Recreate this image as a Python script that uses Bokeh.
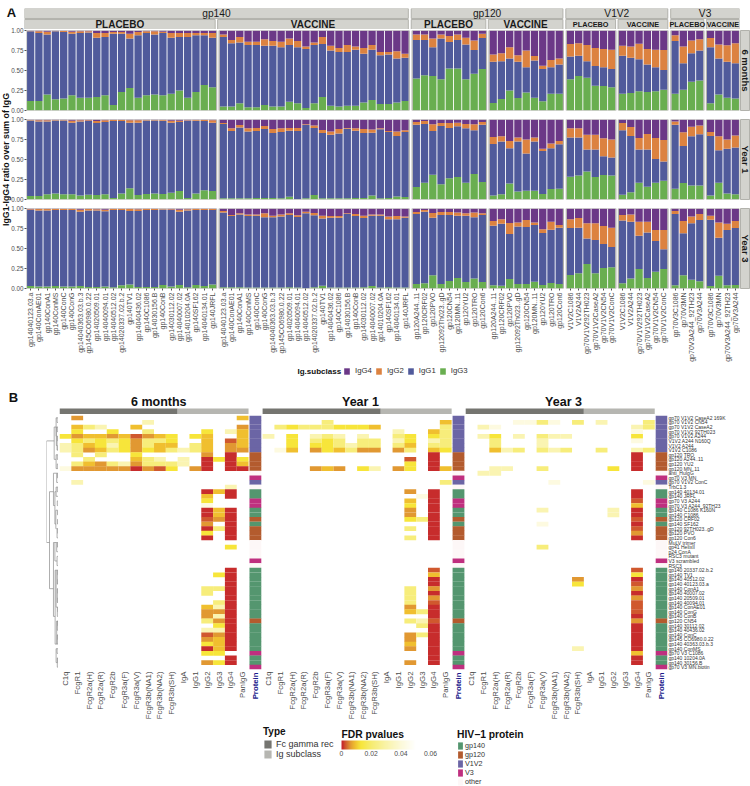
import math
import numpy as np
from bokeh.plotting import figure
from bokeh.layouts import column, row
from bokeh.embed import file_html
from bokeh.resources import INLINE
from bokeh.core.properties import value
from bokeh.models import (ColumnDataSource, FactorRange, Range1d, FixedTicker, Legend, LegendItem,
                          LinearColorMapper, ColorBar)

FONT = "Liberation Sans"
GREY = "#4d4d4d"

# ---------------------------------------------------------------- panel A data
GP140_NAMES = ["gp14040123.03.a", "gp140ConAE01", "gp140ConA1", "gp140ConMS", "gp140ConC", "gp140ConG",
               "gp14040363.03.b.3", "gp145CO6980.0.22", "gp14020509.01", "gp14040094.01", "gp14040512.02",
               "gp14020337.02.b.2", "gp140TV1", "gp14040436.02", "gp140C1086", "gp14030156.B", "gp140ConB",
               "gp14030112.02", "gp14040007.02", "gp14010204.0A", "gp140SF162", "gp14040134.01", "gp140JRFL"]
GP120_NAMES = ["gp120A244..11", "gp120CRF02", "gp120PVO", "gp12092Th023..gD", "gp120CN54", "gp120MN..11",
               "gp120YU2", "gp120TRO", "gp120Con6"]
V1V2_NAMES = ["V1V2C1086", "V1V2A244", "gp70V1V292TH023", "gp70V1V2CaseA2", "gp70V1V2CN54", "gp70V1V2ConC"]
V3_NAMES = ["gp70V3C1086", "gp70V3MN", "gp70V3A244_92TH23", "gp70V3A244"]
ANTIGEN_GROUPS = ["gp140", "gp120", "V1V2", "V3"]
ANTIGEN_NAMES = [GP140_NAMES, GP120_NAMES, V1V2_NAMES, V3_NAMES]
TREATMENTS = ["PLACEBO", "VACCINE"]
TIMEPOINTS = ["6 months", "Year 1", "Year 3"]
SUBCLASSES = ["IgG4", "IgG2", "IgG1", "IgG3"]
SUB_COLORS = {"IgG4": "#6b3887", "IgG2": "#dc8240", "IgG1": "#505a9b", "IgG3": "#69ae50"}

# order: gp140 P (23), gp140 V (23), gp120 P (9), gp120 V (9), V1V2 P (6), V1V2 V (6), V3 P (4), V3 V (4)
M6_IGG4 = [.005,.01,.015,.005,.005,.015,.01,.01,.03,.03,.02,.02,.04,.02,.01,.01,.015,.03,.03,.03,.03,.03,.03,
           .05,.12,.08,.14,.14,.11,.13,.14,.10,.13,.20,.15,.08,.19,.22,.18,.20,.22,.18,.27,.27,.26,.29,
           .05,.05,.10,.05,.07,.05,.09,.125,.04,
           .30,.285,.21,.31,.25,.32,.44,.37,.35,
           .17,.16,.18,.22,.23,.24,
           .19,.20,.165,.23,.24,.245,
           .06,.20,.125,.11,
           .095,.175,.185,.16]
M6_IGG2 = [.005,.02,.035,.005,.015,.025,.02,.015,.06,.05,.02,.02,.06,.04,.02,.04,.015,.06,.05,.05,.03,.03,.06,
           .03,.04,.07,.04,.04,.08,.06,.07,.08,.08,.03,.03,.09,.06,.05,.09,.04,.07,.06,.04,.03,.09,.05,
           .07,.07,.11,.05,.075,.07,.085,.12,.055,
           .09,.10,.14,.08,.21,.055,.04,.09,.075,
           .155,.155,.205,.225,.23,.24,
           .125,.14,.195,.195,.22,.25,
           .07,.21,.16,.14,
           .115,.175,.205,.25]
M6_IGG3 = [.12,.12,.20,.14,.15,.19,.16,.16,.17,.19,.07,.23,.28,.16,.19,.20,.19,.21,.25,.16,.23,.32,.29,
           .05,.05,.09,.04,.04,.07,.05,.05,.11,.09,.03,.09,.17,.06,.05,.06,.06,.10,.13,.08,.08,.10,.12,
           .40,.44,.43,.39,.525,.525,.39,.46,.52,
           .095,.145,.25,.155,.225,.16,.115,.21,.21,
           .39,.43,.41,.31,.305,.29,
           .21,.22,.24,.23,.24,.26,
           .21,.26,.36,.375,
           .09,.20,.16,.15]
Y1_IGG4 = [.005,.01,.01,.005,.005,.015,.01,.01,.02,.01,.005,.005,.01,.01,.005,.005,.005,.015,.015,.01,.005,.005,.01,
           .045,.11,.07,.11,.105,.08,.12,.11,.105,.105,.06,.075,.13,.15,.12,.105,.11,.12,.125,.11,.145,.15,.135,
           .03,.02,.06,.045,.045,.04,.055,.06,.03,
           .22,.21,.27,.225,.25,.225,.365,.30,.27,
           .11,.11,.19,.19,.235,.25,
           .045,.095,.23,.18,.23,.255,
           .025,.16,.09,.075,
           .155,.21,.25,.20]
Y1_IGG2 = [.007,.015,.015,.007,.007,.025,.015,.01,.025,.02,.015,.015,.03,.03,.007,.007,.011,.025,.015,.006,.011,.015,.03,
           .012,.035,.03,.04,.04,.04,.05,.045,.035,.04,.01,.03,.04,.04,.055,.01,.03,.05,.04,.012,.01,.055,.02,
           .035,.035,.085,.035,.06,.045,.055,.075,.035,
           .085,.065,.09,.05,.175,.05,.03,.06,.04,
           .115,.115,.185,.185,.225,.225,
           .09,.11,.145,.195,.265,.27,
           .04,.17,.12,.11,
           .05,.175,.115,.15]
Y1_IGG3 = [.045,.045,.065,.075,.065,.065,.05,.06,.055,.065,.02,.075,.14,.055,.07,.075,.07,.085,.105,.02,.075,.115,.105,
           .017,.017,.017,.017,.02,.02,.02,.017,.033,.004,.017,.055,.017,.017,.017,.017,.02,.02,.05,.017,.02,.037,.03,
           .155,.21,.31,.19,.265,.28,.21,.32,.22,
           .05,.065,.20,.10,.11,.11,.07,.13,.135,
           .285,.30,.35,.28,.305,.30,
           .06,.09,.21,.16,.21,.235,
           .135,.205,.175,.175,
           .05,.21,.075,.065]
Y3_IGG4 = [.01,.005,.005,.005,.005,.005,.015,.005,.01,.015,.005,.005,.005,.01,.005,.005,.004,.01,.015,.01,.005,.005,.005,
           .03,.08,.06,.075,.075,.06,.09,.075,.06,.085,.04,.055,.09,.095,.095,.06,.07,.09,.075,.075,.10,.095,.10,
           .045,.02,.055,.045,.045,.05,.06,.05,.06,
           .155,.135,.18,.175,.145,.175,.26,.165,.205,
           .135,.12,.185,.185,.22,.24,
           .08,.075,.165,.165,.27,.27,
           .03,.155,.10,.07,
           .09,.175,.19,.155]
Y3_IGG2 = [.01,.02,.02,.015,.015,.015,.025,.02,.015,.02,.015,.015,.025,.02,.015,.015,.008,.01,.025,.015,.015,.015,.015,
           .02,.015,.015,.02,.015,.05,.02,.025,.02,.02,.02,.03,.035,.02,.02,.01,.025,.03,.015,.015,.035,.04,.015,
           .025,.02,.06,.035,.035,.04,.03,.06,.02,
           .06,.055,.14,.05,.085,.03,.045,.10,.035,
           .11,.12,.19,.21,.225,.24,
           .07,.09,.175,.135,.135,.24,
           .04,.155,.085,.075,
           .05,.19,.08,.09]
Y3_IGG3 = [.03,.025,.025,.03,.025,.025,.03,.02,.02,.025,.017,.04,.05,.02,.02,.02,.045,.025,.045,.017,.045,.03,.05,
           .017,.017,.017,.012,.012,.012,.012,.012,.017,.012,.004,.017,.033,.012,.012,.012,.012,.017,.03,.012,.017,.012,.012,
           .055,.065,.165,.055,.095,.13,.08,.125,.08,
           .04,.035,.12,.055,.055,.085,.045,.07,.055,
           .17,.19,.305,.19,.255,.265,
           .065,.125,.245,.13,.21,.245,
           .04,.165,.11,.09,
           .03,.16,.04,.045]

# ---------------------------------------------------------------- panel B data
ROW_LABELS = ["gp70 V1V2 CaseA2 169K", "gp70 V1V2 CN54", "gp70 V1V2 CaseA2", "gp70 V1V2 92TH023", "gp70 V1V2 A244",
              "V1V2 A244 N160Q", "V1V2 A244", "V1V2 C1086", "gp120 TRO", "gp120 A244..11", "gp120 YU2", "gp120 MN..11",
              "anti_HuIgG", "gp70 V3 MN", "gp70 V1V2 ConC", "TrbC1.3", "gp140 40134.01", "gp140 JRFL", "gp70 V3 A244",
              "gp70 V3 A244_92TH23", "gp140 C1086 K160N", "gp140 C1086", "gp120 CRF02", "gp140 SF162",
              "gp120 92TH023..gD", "gp120 PVO", "gp120 Con6", "MuLV trimer", "gp41 HelixII", "p24 ConA", "RSC3 mutant",
              "V3 scrambled", "RSC3", "gp140 20337.02.b.2", "gp140 TV1", "gp140 40512.02", "gp140 40123.03.a",
              "gp140 ConA1", "gp140 40007.02", "gp140 20509.01", "gp140 40094.01", "gp140 ConAE01", "gp140 ConG",
              "gp140 ConB", "gp120 CN54", "gp140 30112.02", "gp140 40436.02", "gp140 ConC", "gp145 CO6980.0.22",
              "gp140 40363.03.b.3", "gp140 ConMS", "gp70 V3 C1086", "gp140 10204.0A", "gp140 30156.B", "gp70 V3 MN.biotin"]
ROW_PROTEIN = ["V1V2"] * 8 + ["gp120"] * 4 + ["other", "V3", "V1V2", "other", "gp140", "gp140", "V3", "V3", "gp140",
               "gp140", "gp120", "gp140", "gp120", "gp120", "gp120", "other", "other", "other", "other", "V3", "other"] \
              + ["gp140"] * 11 + ["gp120"] + ["gp140"] * 6 + ["V3", "gp140", "gp140", "V3"]
FC_COLS = ["C1q", "FcgR1", "FcgR2a(H)", "FcgR2a(R)", "FcgR2b", "FcgR3a(F)", "FcgR3a(V)", "FcgR3b(NA1)", "FcgR3b(NA2)",
           "FcgR3b(SH)"]
IG_COLS = ["IgA", "IgG1", "IgG2", "IgG3", "IgG4", "PanIgG"]
PROTEIN_NAMES = ["gp140", "gp120", "V1V2", "V3", "other"]
PROTEIN_COLORS = {"gp140": "#54966f", "gp120": "#b35b2e", "V1V2": "#6b65a5", "V3": "#bf2f7f", "other": "#fdf7f7"}
# FDR p-value bands for the letters in the heat rows below ("." = not significant)
FDR_LEVEL = {"a": .0008, "b": .0028, "c": .006, "d": .009, "e": .013, "f": .022, "g": .032, "h": .042}

_ = "................"
HEAT_6M = [".c.............d", ".......g........", ".dfg..d........c", ".e..e..f....e.gd", "ecddcdbcde.ed..d",
           ".efefecffe..d.bd", "gfdegecfdd.fd.cd", "gfcdfecedfgfd.cc", ".f.f..e.....c.a.", "..f...dfg.g.aeae",
           ".fdcfgcfffg.a.ad", "hcccccacbe.ca.aa", _, _, ".g..............", "..............g.", "............ada.",
           "............d.a.", "............e...", "............h...", "............ada.", "............ada.",
           "............bca.", "............c.a.", "............afa.", "............e.a.", "............a.a.",
           _, "..............e.", _, _, _, _, "..............a.", ".............ea.", "..............a.",
           "..............a.", "............ffa.", "............f.a.", "..............a.", ".............fa.",
           "............dga.", "............cca.", "............cga.", "............fca.", ".............ea.",
           "............gga.", "............bca.", "............cda.", "............eda.", "............ada.",
           "............ee..", "..............a.", "............cea.", _]
HEAT_Y1 = [_, ".....f.........d", ".fefffeeed.....f", "...........g..df", "g.e.gfg.g..fe.ef", "..e.fef.ff.ge.gf",
           "..e.eefgff.fd.ff", ".hd.cedfcc.cf.de", "..............a.", "............b.a.", "............e.a.",
           "....cdc.eg.ce.ad", _, _, "...............f", _, "............c.a.", ".............ha.", "............d.a.",
           "............e.a.", "............c.a.", "............c.a.", "............efa.", "..............a.",
           "............f.a.", "..............a.", "............f.a.", _, _, _, _, _, _, "..............b.",
           "..............d.", "..............a.", "..............a.", "............f.c.", "............f.a.",
           "............f.c.", "............f.b.", "............c.a.", "............dfa.", "..............a.",
           "............fgb.", ".............fa.", "..............a.", "............cfa.", "............c.a.",
           "............d.a.", "............c.a.", "..............a.", "..............a.", "............c.a.", _]
HEAT_Y3 = [_, "....hhfh.f.g...f", ".gh...........gf", "..............h.", ".ge.g.fgg.....e.", "..f...g.......h.",
           "..f...g.........", "..dgf.fgf..f..gf", "..............a.", "..............a.", "..............a.",
           "..gg..f.....e.a.", ".gg.............", _, ".......h.......h", _, "..............a.", "..............a.",
           "..............b.", "..............d.", "......g.....g.a.", "............g.a.", "..............b.",
           "......h.......a.", "..............b.", "..............c.", "..............a.", _, "......f.........",
           _, _, _, _, "..............b.", "..............e.", ".........c....a.", ".........e....b.", "..............c.",
           "..............a.", "..............c.", "..............b.", "..............b.", "..............b.",
           "..............a.", "..............c.", "..............a.", "..............a.", "..............a.",
           "..............a.", "..............a.", ".........g....a.", "..............d.", "..............a.",
           "..............a.", _]

# dendrogram merges: row index a, row index b, merge height, heights of the two children
DENDRO_A = [6, 17, 3, 1, 1, 3, 3, 5, 5, 7, 9, 9, 11, 13, 13, 13, 17, 16, 16, 19, 21, 21, 23, 25, 25, 28, 28, 28, 28, 31,
            34, 34, 34, 34, 36, 38, 38, 40, 42, 42, 45, 45, 45, 48, 48, 51, 51, 53, 53]
DENDRO_B = [28, 38, 10, 5, 2, 7, 4, 8, 6, 8, 12, 10, 12, 20, 15, 14, 24, 18, 17, 20, 25, 22, 24, 27, 26, 44, 32, 30, 29,
            33, 50, 42, 37, 35, 37, 41, 39, 41, 44, 43, 50, 47, 46, 50, 49, 54, 52, 55, 54]
DENDRO_H = [1, .75, .36, .2, .12, .18, .1, .12, .06, .06, .2, .1, .1, .42, .15, .08, .3, .2, .1, .1, .22, .08, .08, .12,
            .06, .42, .3, .15, .08, .12, .28, .2, .1, .05, .05, .1, .05, .05, .1, .05, .15, .1, .05, .1, .05, .2, .12, .1, .05]
DENDRO_HA = [.36, .42, .2, .12, 0, .1, 0, .06, 0, 0, .1, 0, 0, .15, .08, 0, .2, .1, 0, 0, .12, 0, 0, .06, 0, .3, .15, .08,
             0, 0, .2, .1, .05, 0, 0, .05, 0, 0, .05, 0, .1, .05, 0, .05, 0, .12, 0, .05, 0]
DENDRO_HB = [.75, .42, .2, .18, 0, .12, 0, .06, 0, 0, .1, 0, 0, .3, 0, 0, .22, 0, 0, 0, .15, 0, 0, 0, 0, .28, .12, 0, 0,
             0, .15, .1, .05, 0, 0, .05, 0, 0, 0, 0, .1, 0, 0, .05, 0, .1, 0, 0, 0]


def blank(w, h, x_range, y_range, left=0, right=0, top=0, bottom=0, margin=(0, 0, 0, 0)):
    p = figure(width=w, height=h, x_range=x_range, y_range=y_range, output_backend="svg", toolbar_location=None,
               x_axis_location=None, y_axis_location=None, min_border_left=left, min_border_right=right,
               min_border_top=top, min_border_bottom=bottom, outline_line_color=None,
               background_fill_color=None, border_fill_color=None, margin=margin)
    p.grid.visible = False
    return p


def put_text(p, x, y, txt, size, color="black", bold=False, angle=0, align="center"):
    p.text(x=[x], y=[y], text=[txt], angle=angle, text_align=align, text_baseline="middle",
           text_font=value(FONT), text_font_style="bold" if bold else "normal", text_font_size=size, text_color=color)


def hide_levels(ax):
    ax.group_text_color = None
    ax.subgroup_text_color = None
    ax.group_text_font_size = "1px"
    ax.subgroup_text_font_size = "1px"
    ax.separator_line_color = None


# ---------------------------------------------------------------- panel A
factors = []
facets = []
for g, names in zip(ANTIGEN_GROUPS, ANTIGEN_NAMES):
    for t in TREATMENTS:
        for n in names:
            factors.append((g, t, n))
        facets.append((g, t, names))
xA = FactorRange(factors=factors, subgroup_padding=0.3, group_padding=0.35, factor_padding=0, range_padding=0)

facet_src = ColumnDataSource(dict(left=[(g, t, ns[0], -0.5) for g, t, ns in facets],
                                  right=[(g, t, ns[-1], 0.5) for g, t, ns in facets]))

STRIP = "#d3d3ce"
STRIP_LINE = "#b2b2ac"


def bars_row(ig4, ig2, ig3, height, top, bottom, is_last=False):
    p = figure(width=732, height=height, x_range=xA, y_range=Range1d(0, 1), output_backend="svg",
               toolbar_location=None, x_axis_location="below" if is_last else None,
               min_border_left=16, min_border_right=1, min_border_top=top, min_border_bottom=bottom,
               outline_line_color=None, background_fill_color=None, border_fill_color=None)
    p.grid.visible = False
    a4, a2, a3 = np.array(ig4), np.array(ig2), np.array(ig3)
    src = ColumnDataSource(dict(x=factors, IgG4=a4, IgG2=a2, IgG3=a3, IgG1=1 - a4 - a2 - a3))
    stack = ["IgG3", "IgG1", "IgG2", "IgG4"]
    p.vbar_stack(stack, x="x", width=0.89, color=[SUB_COLORS[s] for s in stack], line_color=None, source=src)
    p.quad(left="left", right="right", bottom=0, top=1, source=facet_src, fill_color=None, line_color=STRIP_LINE,
           line_width=1.2)
    yax = p.yaxis[0]
    yax.ticker = FixedTicker(ticks=[0, .25, .5, .75, 1])
    yax.major_label_overrides = {0: "0.00", 0.25: "0.25", 0.5: "0.50", 0.75: "0.75", 1: "1.00"}
    yax.major_label_text_font = FONT
    yax.major_label_text_font_size = "6.3px"
    yax.major_label_text_color = GREY
    yax.major_label_standoff = 1
    yax.major_tick_in = 0
    yax.major_tick_out = 2
    yax.major_tick_line_color = "#555555"
    yax.minor_tick_line_color = None
    yax.axis_line_color = None
    if is_last:
        xax = p.xaxis[0]
        xax.major_label_orientation = math.pi / 2
        xax.major_label_text_font = FONT
        xax.major_label_text_font_size = "7px"
        xax.major_label_text_color = GREY
        xax.major_label_standoff = 2
        xax.major_tick_in = 0
        xax.major_tick_out = 2
        xax.major_tick_line_color = "#555555"
        xax.axis_line_color = None
        hide_levels(xax)
    return p


def side_strip(label, height, top, bottom):
    p = blank(10, height, Range1d(0, 1), Range1d(0, 1), top=top, bottom=bottom)
    p.background_fill_color = STRIP
    p.outline_line_color = STRIP_LINE
    put_text(p, .5, .5, label, "9.5px", color="#1a1a1a", bold=True, angle=-math.pi / 2)
    return p


# top strips
strip = blank(726, 29, xA, Range1d(0, 2), right=11, top=8)
for g, names in zip(ANTIGEN_GROUPS, ANTIGEN_NAMES):
    strip.quad(left=[(g, "PLACEBO", names[0], -0.5)], right=[(g, "VACCINE", names[-1], 0.5)], bottom=1.05, top=2,
               fill_color=STRIP, line_color=STRIP_LINE)
    put_text(strip, (g, "VACCINE", names[0], -0.65), 1.52, g, "10.2px", color="#1a1a1a")
    for t in TREATMENTS:
        strip.quad(left=[(g, t, names[0], -0.5)], right=[(g, t, names[-1], 0.5)], bottom=0, top=.95,
                   fill_color=STRIP, line_color=STRIP_LINE)
        mid = (len(names) - 1) / 2
        k = int(mid)
        size = "10px" if len(names) > 6 else "7.3px"
        put_text(strip, (g, t, names[k], mid - k), .48, t, size, color="#1a1a1a", bold=True)

a_fig = blank(24, 29, Range1d(0, 24), Range1d(29, 0))
put_text(a_fig, 11, 6, "A", "13px", bold=True, color="#111111")

title_fig = blank(12, 175 + 89 + 88, Range1d(0, 12), Range1d(378, 26))
put_text(title_fig, 5.2, 159, "IgG1-IgG4 ratio over sum of IgG", "8.8px", bold=True, color="#111111",
         angle=math.pi / 2)

r1 = bars_row(M6_IGG4, M6_IGG2, M6_IGG3, 88, 4, 4)
r2 = bars_row(Y1_IGG4, Y1_IGG2, Y1_IGG3, 89, 5, 4)
r3 = bars_row(Y3_IGG4, Y3_IGG2, Y3_IGG3, 175, 5, 90, is_last=True)
rows_col = column(row(r1, side_strip(TIMEPOINTS[0], 88, 4, 4), spacing=0),
                  row(r2, side_strip(TIMEPOINTS[1], 89, 5, 4), spacing=0),
                  row(r3, side_strip(TIMEPOINTS[2], 175, 5, 90), spacing=0), spacing=0, margin=(0, 0, 0, -4))
panel_a = column(row(a_fig, strip, spacing=0),
                 row(title_fig, rows_col, spacing=0, margin=(-3, 0, 0, 0)), spacing=0)

# Ig subclass legend, laid over the free space under the axis labels
nan = float("nan")
leg_a = blank(180, 14, Range1d(0, 180), Range1d(0, 14), margin=(-14, 0, 0, 296))
put_text(leg_a, 1, 7, "Ig.subclass", "8px", bold=True, color="#111111", align="left")
leg_a.add_layout(Legend(items=[LegendItem(label=s, renderers=[
    leg_a.rect(x=[nan], y=[nan], width=1, height=1, fill_color=SUB_COLORS[s], line_color=None)]) for s in SUBCLASSES],
    orientation="horizontal", location=(47, 3), padding=0, margin=0, spacing=3, label_standoff=5, glyph_width=7,
    glyph_height=8, label_height=8, label_width=1, label_text_font=FONT, label_text_font_size="7.8px",
    label_text_color="#333333", label_text_baseline="middle", border_line_color=None,
    background_fill_color=None), "center")

# ---------------------------------------------------------------- panel B
xfac = []
for t in TIMEPOINTS:
    xfac += [(t, "data", c) for c in FC_COLS + IG_COLS] + [(t, "prot", " ")]
xH = FactorRange(factors=xfac, subgroup_padding=0.08, group_padding=0.11, factor_padding=0, range_padding=0)
yH = FactorRange(factors=ROW_LABELS[::-1], factor_padding=0, range_padding=0)

anchors_p = [0, .001, .003, .006, .009, .013, .02, .03, .04, .05, .06]
anchors_c = [(198, 36, 45), (200, 48, 44), (210, 98, 47), (226, 154, 50), (240, 192, 47), (247, 230, 58),
             (246, 236, 112), (249, 243, 168), (252, 249, 216), (255, 255, 255), (255, 255, 255)]
grid_p = np.linspace(0, .06, 256)
palette = ["#%02x%02x%02x" % tuple(int(round(np.interp(v, anchors_p, [c[i] for c in anchors_c]))) for i in range(3))
           for v in grid_p]
mapper = LinearColorMapper(palette=palette, low=0, high=0.06)

heat = figure(width=692, height=308, x_range=xH, y_range=yH, output_backend="svg", toolbar_location=None,
              x_axis_location="below", y_axis_location="right", min_border_left=1, min_border_right=83,
              min_border_top=1, min_border_bottom=52, outline_line_color=None, background_fill_color=None,
              border_fill_color=None)
heat.grid.visible = False
cx, cy, cp = [], [], []
for t, matrix in zip(TIMEPOINTS, [HEAT_6M, HEAT_Y1, HEAT_Y3]):
    for lab, line in zip(ROW_LABELS, matrix):
        for c, ch in zip(FC_COLS + IG_COLS, line):
            if ch != ".":
                cx.append((t, "data", c))
                cy.append(lab)
                cp.append(FDR_LEVEL[ch])
heat.rect(x="x", y="y", width=1, height=1.04, source=ColumnDataSource(dict(x=cx, y=cy, p=cp)),
          fill_color={"field": "p", "transform": mapper}, line_color=None)
px, py, pc = [], [], []
for t in TIMEPOINTS:
    for lab, prot in zip(ROW_LABELS, ROW_PROTEIN):
        px.append((t, "prot", " "))
        py.append(lab)
        pc.append(PROTEIN_COLORS[prot])
heat.rect(x="x", y="y", width=1, height=1.04, source=ColumnDataSource(dict(x=px, y=py, c=pc)), fill_color="c",
          line_color=None)
xax = heat.xaxis[0]
xax.major_label_orientation = math.pi / 2
xax.major_label_text_font = FONT
xax.major_label_text_font_size = "7.8px"
xax.major_label_text_color = GREY
xax.major_label_standoff = 2
xax.major_tick_in = 0
xax.major_tick_out = 0
xax.major_tick_line_color = None
xax.axis_line_color = None
hide_levels(xax)
yax = heat.yaxis[0]
yax.major_label_text_font = FONT
yax.major_label_text_font_size = "5px"
yax.major_label_text_color = "#333333"
yax.major_label_standoff = 1
yax.major_tick_in = 0
yax.major_tick_out = 0
yax.major_tick_line_color = None
yax.axis_line_color = None

# the coloured "Protein" tick texts, laid over the space under the heatmap on the same x range
prot_fig = blank(692, 52, xH, Range1d(52, 0), left=1, right=83, margin=(-52, 0, 0, 58))
for t in TIMEPOINTS:
    put_text(prot_fig, (t, "prot", " "), 2, "Protein", "7.8px", color="#1c1c8c", bold=True, angle=math.pi / 2,
             align="right")

dendro = blank(58, 308, Range1d(1.0, 0.0), yH, left=46, top=1, bottom=52)
ya = [ROW_LABELS[i - 1] for i in DENDRO_A]
yb = [ROW_LABELS[i - 1] for i in DENDRO_B]
dendro.segment(x0=DENDRO_H, y0=ya, x1=DENDRO_H, y1=yb, line_color="#8c8c8c", line_width=0.7)
dendro.segment(x0=DENDRO_H, y0=ya, x1=DENDRO_HA, y1=ya, line_color="#8c8c8c", line_width=0.7)
dendro.segment(x0=DENDRO_H, y0=yb, x1=DENDRO_HB, y1=yb, line_color="#8c8c8c", line_width=0.7)

# type bars and time titles above the heatmap
type_fig = blank(692, 36, xH, Range1d(0, 36), left=1, right=83)
FC_GREY, IG_GREY = "#757570", "#b6b6b1"
for t, off in zip(TIMEPOINTS, [-0.1, -0.22, -0.22]):
    type_fig.quad(left=[(t, "data", FC_COLS[0], -0.5)], right=[(t, "data", FC_COLS[-1], 0.5)], bottom=0, top=6,
                  fill_color=FC_GREY, line_color=None)
    type_fig.quad(left=[(t, "data", IG_COLS[0], -0.5)], right=[(t, "data", IG_COLS[-1], 0.5)], bottom=0, top=6,
                  fill_color=IG_GREY, line_color=None)
    put_text(type_fig, (t, "data", "FcgR3b(NA2)", off), 13, t, "12.5px", bold=True, color="#111111")

b_fig = blank(58, 36, Range1d(0, 58), Range1d(36, 0))
put_text(b_fig, 13, 19, "B", "13px", bold=True, color="#111111")

panel_b = column(row(b_fig, type_fig, spacing=0), row(dendro, heat, spacing=0), prot_fig, spacing=0)

# ---------------------------------------------------------------- legends of panel B
leg_fig = blank(750, 64, Range1d(0, 750), Range1d(0, 64))


def swatch(color):
    return leg_fig.rect(x=[nan], y=[nan], width=1, height=1, fill_color=color, line_color=None)


leg_fig.add_layout(Legend(items=[LegendItem(label="Fc gamma rec", renderers=[swatch(FC_GREY)]),
                                 LegendItem(label="Ig subclass", renderers=[swatch(IG_GREY)])],
                          title="Type", title_text_font=FONT, title_text_font_style="bold",
                          title_text_font_size="10px", title_text_color="#111111", title_standoff=2,
                          location=(263, 27), padding=0, margin=0, spacing=0, label_standoff=4, glyph_width=9,
                          glyph_height=10, label_height=10, label_text_font=FONT, label_text_font_size="9px",
                          label_text_color="#333333", label_text_baseline="middle", border_line_color=None,
                          background_fill_color=None), "center")
leg_fig.add_layout(Legend(items=[LegendItem(label=n, renderers=[swatch(PROTEIN_COLORS[n])]) for n in PROTEIN_NAMES],
                          title="HIV\u22121 protein", title_text_font=FONT, title_text_font_style="bold",
                          title_text_font_size="10.3px", title_text_color="#111111", title_standoff=1,
                          location=(457, 0), padding=0, margin=0, spacing=0, label_standoff=2, glyph_width=6,
                          glyph_height=9, label_height=9, label_text_font=FONT, label_text_font_size="7.2px",
                          label_text_color="#333333", label_text_baseline="middle", border_line_color=None,
                          background_fill_color=None), "center")
cbar = ColorBar(color_mapper=mapper, orientation="horizontal", width=89, height=9, location=(341, 28),
                ticker=FixedTicker(ticks=[0, .02, .04, .06]),
                major_label_overrides={0: "0", 0.02: "0.02", 0.04: "0.04", 0.06: "0.06"},
                major_label_text_font=FONT, major_label_text_font_size="6.8px", major_label_text_color=GREY,
                major_tick_line_color=None, minor_tick_line_color=None, bar_line_color=None, label_standoff=1,
                title="FDR pvalues", title_text_font=FONT, title_text_font_style="bold", title_text_font_size="10.3px",
                title_text_color="#111111", title_standoff=2, padding=0, margin=0, background_fill_color=None,
                border_line_color=None)
leg_fig.add_layout(cbar, "center")

root = column(panel_a, leg_a, panel_b, leg_fig, spacing=0)
open("out.html", "w").write(file_html(root, INLINE))
